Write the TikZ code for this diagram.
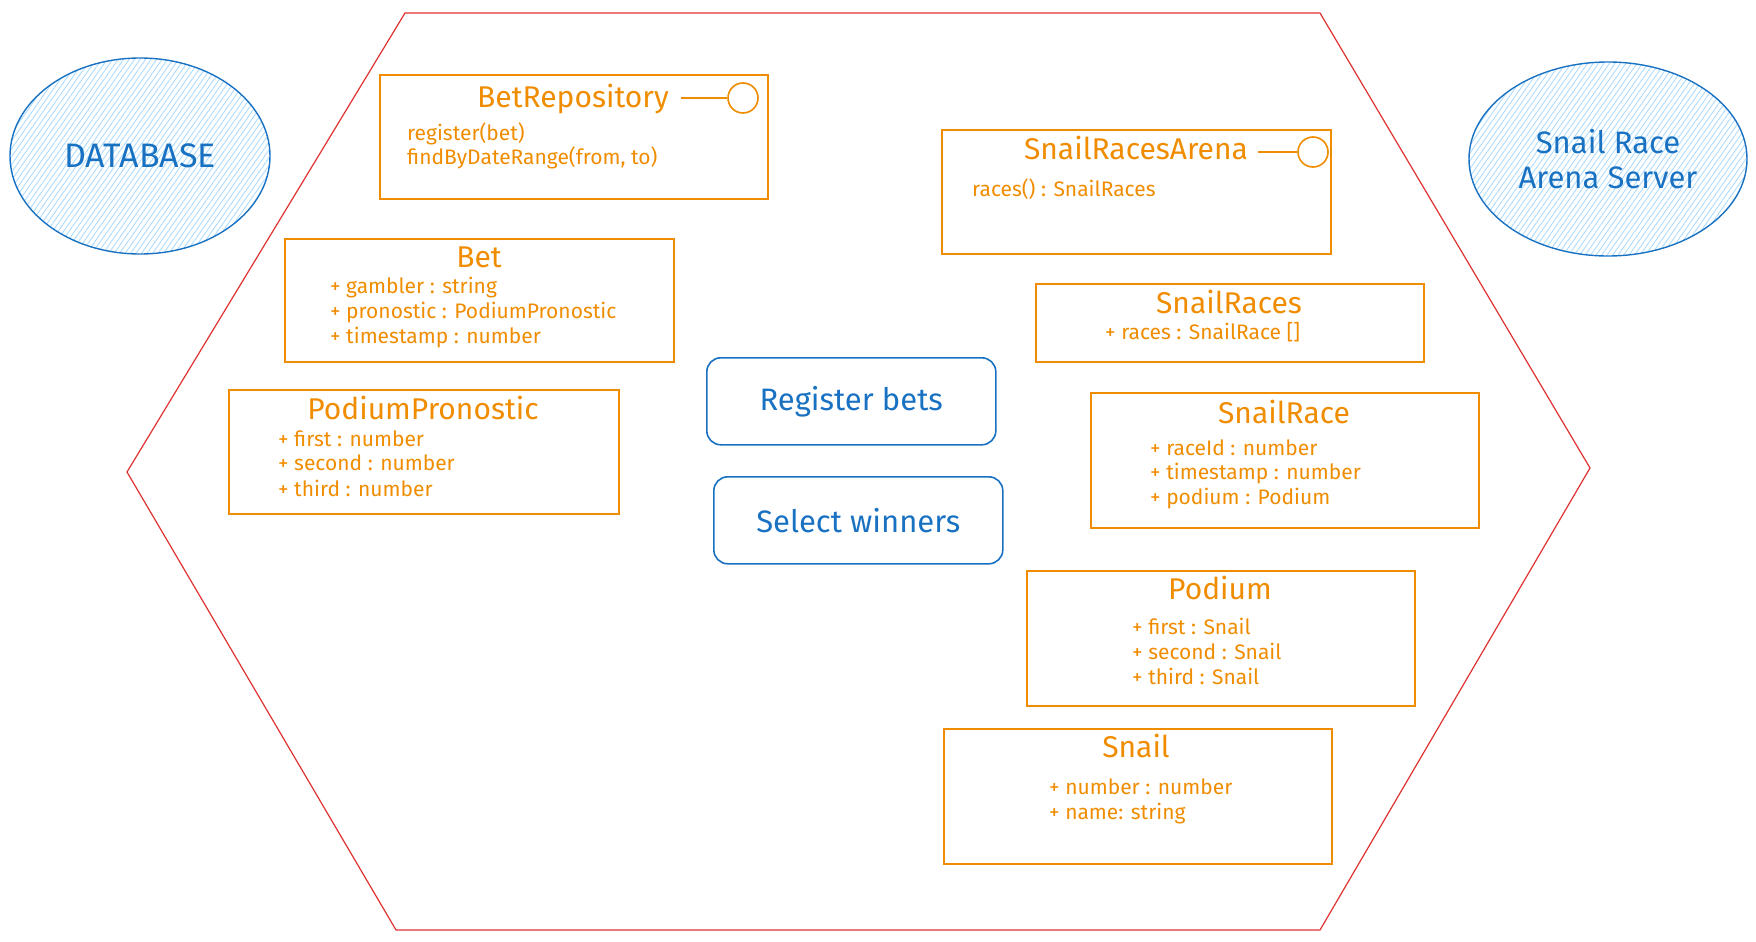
\documentclass[tikz,border=0pt]{standalone}
\usepackage{fontspec}
\setmainfont{Fira Sans}
\usetikzlibrary{shapes.geometric,patterns.meta}

\definecolor{orangeC}{HTML}{F08C00}
\definecolor{blueC}{HTML}{1971C2}
\definecolor{redC}{HTML}{E03131}
\definecolor{hatchC}{HTML}{A5D8FF}

\begin{document}
\begin{tikzpicture}[x=1pt,y=-1pt,
    classbox/.style={draw=orangeC, line width=1.6pt, anchor=north west, inner sep=0pt},
    classtitle/.style={text=orangeC, font=\fontsize{30}{33}\selectfont, anchor=base, inner sep=0pt},
    member/.style={text=orangeC, font=\fontsize{21}{24}\selectfont, anchor=base west, inner sep=0pt},
    usecase/.style={draw=blueC, line width=1.6pt, rounded corners=14pt, text=blueC,
      font=\fontsize{31}{34}\selectfont, minimum width=289pt, minimum height=87pt, anchor=north west},
    actor/.style={ellipse, draw=blueC, line width=1.4pt, text=blueC, align=center,
      pattern={Lines[angle=55,distance=4.5pt,line width=0.8pt]}, pattern color=hatchC,
      font=\fontsize{31}{35}\selectfont},
    lollipop/.style={circle, draw=orangeC, line width=1.6pt, minimum size=30pt, inner sep=0pt}]
    \useasboundingbox (0,0) rectangle (1756,942);

    % hexagon
    \draw[redC, line width=1.2pt] (405,13) -- (1320,13) -- (1590,468) -- (1320,930)
      -- (396,930) -- (127,472) -- cycle;

    % actors
    \node[actor, minimum width=260pt, minimum height=196pt, font=\fontsize{34}{38}\selectfont] at (140,156) (db) {DATABASE};
    \node[actor, minimum width=278pt, minimum height=194pt] at (1608,159) (server) {Snail Race\\Arena Server};

    % use cases
    \node[usecase] at (706,357) (register) {Register bets};
    \node[usecase] at (713,476) (select) {Select winners};

    % left side
    \node[classbox, minimum width=388pt, minimum height=124pt] at (379,74) (BetRepoBox) {};
    \node[classtitle] at (573,107) (BetRepo) {BetRepository};
    \node[lollipop] at (743,98) (BetRepoPort) {};
    \node[member] at (407,140) (BetRepoM1) {register(bet)};
    \node[member] at (407,164) (BetRepoM2) {findByDateRange(from, to)};
    \draw[orangeC, line width=1.6pt, shorten <=12pt] (BetRepo.east |- BetRepoPort) -- (BetRepoPort);

    \node[classbox, minimum width=389pt, minimum height=123pt] at (284,238) (BetBox) {};
    \node[classtitle] at (479,267) (Bet) {Bet};
    \node[member] at (330,293) (BetM1) {+ gambler : string};
    \node[member] at (330,318) (BetM2) {+ pronostic : PodiumPronostic};
    \node[member] at (330,343) (BetM3) {+ timestamp : number};

    \node[classbox, minimum width=390pt, minimum height=124pt] at (228,389) (PronosticBox) {};
    \node[classtitle] at (423,419) (Pronostic) {PodiumPronostic};
    \node[member] at (278,446) (PronosticM1) {+ first : number};
    \node[member] at (278,470) (PronosticM2) {+ second : number};
    \node[member] at (278,496) (PronosticM3) {+ third : number};

    % right side
    \node[classbox, minimum width=389pt, minimum height=124pt] at (941,129) (ArenaBox) {};
    \node[classtitle] at (1136,159) (Arena) {SnailRacesArena};
    \node[lollipop] at (1313,152) (ArenaPort) {};
    \node[member] at (972,196) (ArenaM1) {races() : SnailRaces};
    \draw[orangeC, line width=1.6pt, shorten <=10pt] (Arena.east |- ArenaPort) -- (ArenaPort);

    \node[classbox, minimum width=388pt, minimum height=78pt] at (1035,283) (RacesBox) {};
    \node[classtitle] at (1229,313) (Races) {SnailRaces};
    \node[member] at (1105,339) (RacesM1) {+ races : SnailRace []};

    \node[classbox, minimum width=388pt, minimum height=135pt] at (1090,392) (RaceBox) {};
    \node[classtitle] at (1284,423) (Race) {SnailRace};
    \node[member] at (1150,455) (RaceM1) {+ raceId : number};
    \node[member] at (1150,479) (RaceM2) {+ timestamp : number};
    \node[member] at (1150,504) (RaceM3) {+ podium : Podium};

    \node[classbox, minimum width=388pt, minimum height=135pt] at (1026,570) (PodiumBox) {};
    \node[classtitle] at (1220,599) (Podium) {Podium};
    \node[member] at (1132,634) (PodiumM1) {+ first : Snail};
    \node[member] at (1132,659) (PodiumM2) {+ second : Snail};
    \node[member] at (1132,684) (PodiumM3) {+ third : Snail};

    \node[classbox, minimum width=388pt, minimum height=135pt] at (943,728) (SnailBox) {};
    \node[classtitle] at (1136,757) (Snail) {Snail};
    \node[member] at (1049,794) (SnailM1) {+ number : number};
    \node[member] at (1049,819) (SnailM2) {+ name: string};
  \end{tikzpicture}
\end{document}
